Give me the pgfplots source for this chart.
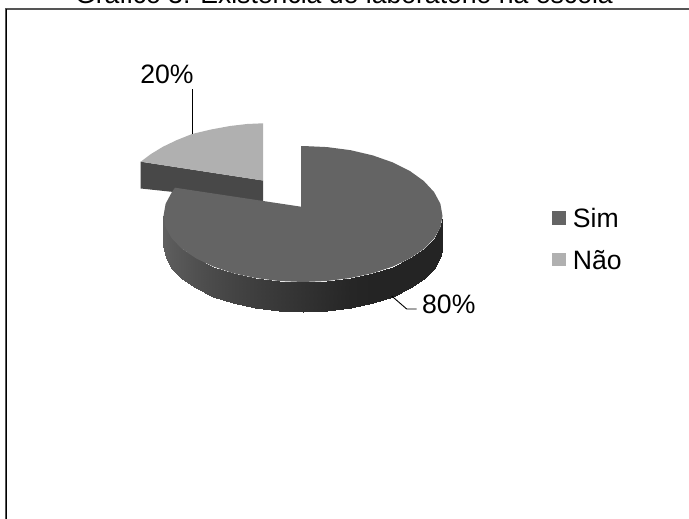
\documentclass[border=0pt]{standalone}
\usepackage{pgfplots}
\pgfplotsset{compat=1.18}
\usepackage{fontspec}
\setmainfont{Liberation Sans}
\definecolor{sim}{HTML}{646464}
\definecolor{nao}{HTML}{B0B0B0}
\definecolor{naoside}{HTML}{484848}
\definecolor{framecol}{HTML}{555555}
\newcommand{\chartfont}{\fontsize{26.6}{30}\selectfont}
\begin{document}
\begin{tikzpicture}
\path[use as bounding box,clip] (0,0) rectangle (689pt,519pt);
\begin{axis}[
  at={(0,0)},anchor=south west,
  scale only axis,width=689pt,height=519pt,
  xmin=0,xmax=689,ymin=0,ymax=519,y dir=reverse,
  axis lines=none,clip=false,
  colormap={grays}{gray(0cm)=(0); gray(1cm)=(1)},
  point meta min=0,point meta max=255,
  legend style={at={(axis cs:549,203)},anchor=north west,draw=none,fill=none,
    font=\chartfont,row sep=17pt,column sep=5pt,inner sep=3pt},
  legend image code/.code={\fill[#1] (0pt,-6pt) rectangle (13.7pt,7.7pt);},
  legend cell align=left,
]
% chart frame
\addplot[framecol,line width=2pt,forget plot] coordinates {(5.5,519) (5.5,8.7) (689,8.7)};
\addplot[black,line width=1pt,forget plot] coordinates {(6.7,519) (6.7,9)};

% "Não" slice, pulled away from the pie: side face, then top face
\addplot[fill=naoside,draw=none,forget plot] coordinates
  {(140.7,161.7) (263,180.5) (263,201.5) (140.7,188.5)} --cycle;
\addplot[fill=nao,draw=none,forget plot] coordinates
  {(263,123.3) (247,124) (230,126) (211,129.5) (192,134) (177,140) (163,146.7)
   (151,154) (140.7,161.7) (263,180.5)} --cycle;

% rim of the "Sim" slice, shaded along its length
\addplot[surf,shader=interp,mesh/cols=19,point meta=explicit,forget plot] table[meta=c] {
x y c
442.5 216 36
440.4 227.5 36
434.1 238.6 36
423.8 249 36
409.9 258.4 36
392.7 266.6 36
372.8 273.2 36
350.7 278 38
327.2 281 44
303 282 50
278.8 281 56
255.3 278 62
233.2 273.2 68
213.3 266.6 74
196.1 258.4 80
182.2 249 86
171.9 238.6 90
165.6 227.5 94
163.5 216 96
442.5 246 36
440.4 257.5 36
434.1 268.6 36
423.8 279 36
409.9 288.4 36
392.7 296.6 36
372.8 303.2 36
350.7 308 38
327.2 311 44
303 312 50
278.8 311 56
255.3 308 62
233.2 303.2 68
213.3 296.6 74
196.1 288.4 80
182.2 279 86
171.9 268.6 90
165.6 257.5 94
163.5 246 96
};

% top face of the "Sim" slice
\addplot[fill=sim,draw=none] coordinates
  {(303,146) (327.2,147.1) (350.7,150.2) (372.8,155.4) (392.7,162.4) (409.9,171)
   (423.8,181) (434.1,192.1) (440.4,203.8) (442.5,216) (440.4,227.5) (434.1,238.6)
   (423.8,249) (409.9,258.4) (392.7,266.6) (372.8,273.2) (350.7,278) (327.2,281)
   (303,282) (278.8,281) (255.3,278) (233.2,273.2) (213.3,266.6) (196.1,258.4)
   (182.2,249) (171.9,238.6) (165.6,227.5) (163.5,216) (165.6,203.8) (171.9,192.1)
   (175,187.7) (301,206.7) (301,146)} --cycle;
\addlegendentry{Sim}
\addlegendimage{fill=nao,draw=none}
\addlegendentry{Não}

% leader lines
\addplot[black,line width=0.9pt,forget plot] coordinates {(192,89.3) (192,134)};
\addplot[black,line width=0.9pt,forget plot] coordinates {(391.7,296) (406.7,309) (416.7,309)};

% labels
\node[anchor=base,font=\chartfont,inner sep=0pt] at (axis cs:167,84) {20\%};
\node[anchor=base west,font=\chartfont,inner sep=0pt] at (axis cs:422,313) {80\%};
\node[anchor=base,font=\chartfont,inner sep=0pt] at (axis cs:344,4) {Gráfico 3: Existência de laboratório na escola};
\end{axis}
\end{tikzpicture}
\end{document}
